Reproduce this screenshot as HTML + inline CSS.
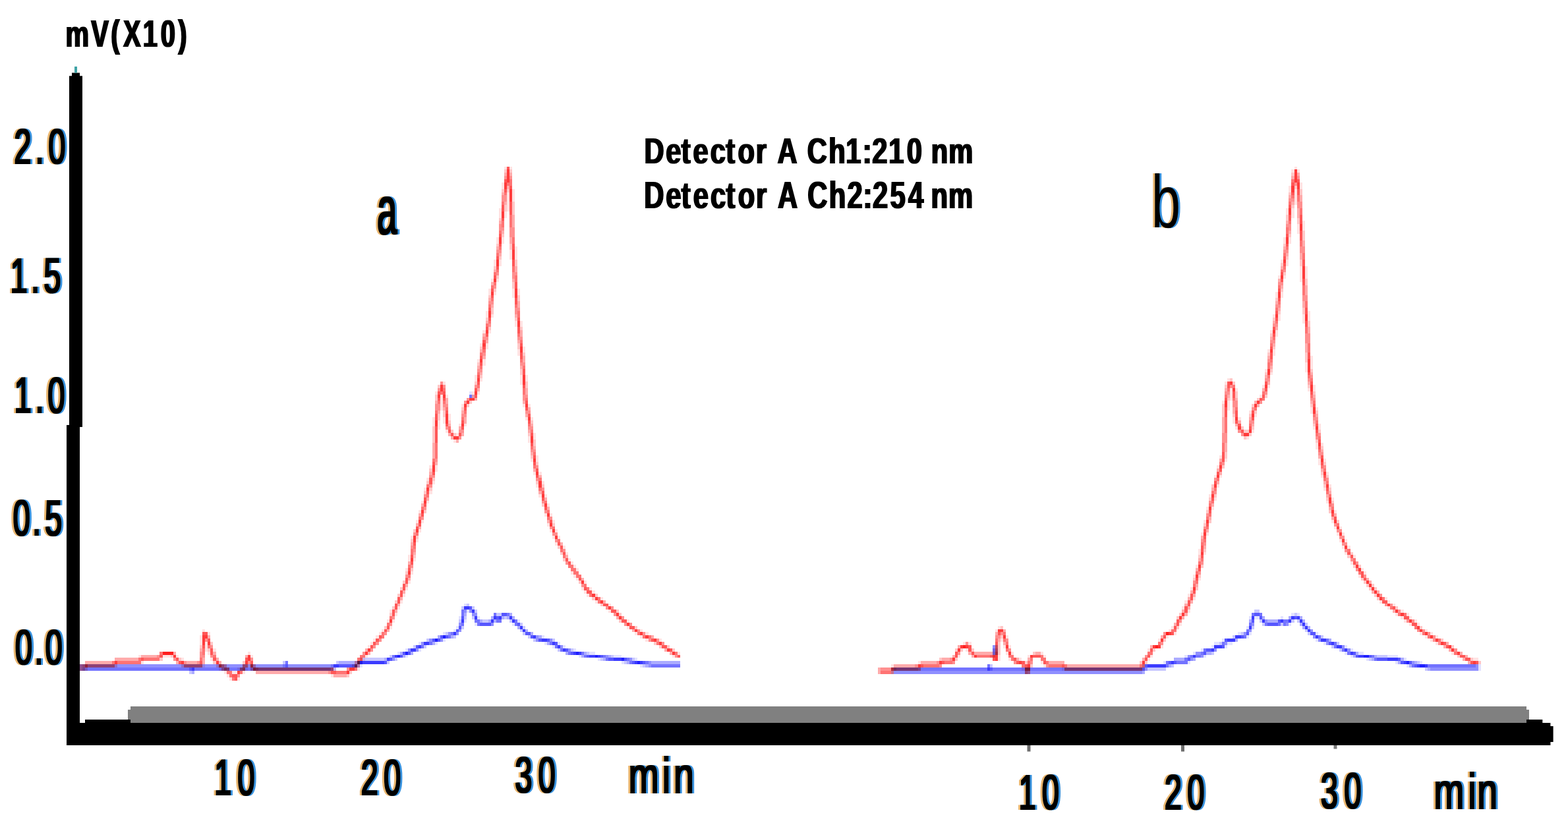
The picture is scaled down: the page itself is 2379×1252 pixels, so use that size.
<!DOCTYPE html>
<html lang="en">
<head>
<meta charset="utf-8">
<title>Chromatogram</title>
<style>
html,body{margin:0;padding:0;background:#fff;}
body{width:2379px;height:1252px;}
svg{display:block;}
text{font-family:"Liberation Sans",sans-serif;font-size:200px;fill:#000;}
.b{font-weight:bold;}
.curve{mix-blend-mode:multiply;}
</style>
</head>
<body>
<svg width="2379" height="1252" viewBox="0 0 2379 1252">
<defs>
<filter id="ct" x="-20%" y="-10%" width="140%" height="120%" color-interpolation-filters="sRGB">
<feMorphology in="SourceGraphic" operator="dilate" radius="1 1" result="core"/>
<feFlood flood-color="#e0962f" flood-opacity="0.7" result="fo"/><feComposite in="fo" in2="core" operator="in"/><feOffset dx="-3.0" result="ol"/>
<feFlood flood-color="#2488dc" flood-opacity="0.9" result="fb"/><feComposite in="fb" in2="core" operator="in"/><feOffset dx="3.0" result="br"/>
<feMerge><feMergeNode in="ol"/><feMergeNode in="br"/><feMergeNode in="core"/></feMerge>
</filter>
<filter id="cta" x="-20%" y="-10%" width="140%" height="120%" color-interpolation-filters="sRGB">
<feFlood flood-color="#e0962f" flood-opacity="0.7" result="fo"/><feComposite in="fo" in2="SourceGraphic" operator="in"/><feOffset dx="-3.0" result="ol"/>
<feFlood flood-color="#2488dc" flood-opacity="0.9" result="fb"/><feComposite in="fb" in2="SourceGraphic" operator="in"/><feOffset dx="3.0" result="br"/>
<feMerge><feMergeNode in="ol"/><feMergeNode in="br"/><feMergeNode in="SourceGraphic"/></feMerge>
</filter>
<filter id="ctb" x="-20%" y="-10%" width="140%" height="120%" color-interpolation-filters="sRGB">
<feMorphology in="SourceGraphic" operator="erode" radius="1 0" result="core"/>
<feFlood flood-color="#e0962f" flood-opacity="0.7" result="fo"/><feComposite in="fo" in2="core" operator="in"/><feOffset dx="-3.0" result="ol"/>
<feFlood flood-color="#2488dc" flood-opacity="0.9" result="fb"/><feComposite in="fb" in2="core" operator="in"/><feOffset dx="3.0" result="br"/>
<feMerge><feMergeNode in="ol"/><feMergeNode in="br"/><feMergeNode in="core"/></feMerge>
</filter>
<filter id="bm" x="-5%" y="-10%" width="110%" height="120%"><feMorphology operator="dilate" radius="1 0"/></filter>
</defs>
<rect x="0" y="0" width="2379" height="1252" fill="#fff"/>
<g style="isolation:isolate" shape-rendering="crispEdges" transform="matrix(4.0495 0 0 4.875 -0.5 -0.97)">
<g class="curve">
<path fill="#0000ff" fill-opacity="0.11" d="M176 122h1v1h-1zM177 123h1v1h-1zM174 188h1v1h-1zM175 190h1v1h-1zM484 191h1v1h-1zM486 191h1v1h-1zM172 192h1v1h-1zM179 192h1v1h-1zM468 192h1v1h-1zM470 192h2v1h-2zM480 192h1v1h-1zM174 193h1v1h-1zM194 193h1v1h-1zM178 194h1v1h-1zM192 194h1v1h-1zM483 194h1v1h-1zM171 195h1v1h-1zM467 195h1v1h-1zM170 196h1v1h-1zM166 197h1v1h-1zM464 197h1v1h-1zM468 197h1v1h-1zM493 197h1v1h-1zM203 198h1v1h-1zM467 198h1v1h-1zM166 199h1v1h-1zM458 199h1v1h-1zM493 199h1v1h-1zM157 200h1v1h-1zM163 200h1v1h-1zM204 200h1v1h-1zM209 200h1v1h-1zM455 200h2v1h-2zM460 200h2v1h-2zM496 200h1v1h-1zM207 201h1v1h-1zM211 201h1v1h-1zM454 201h1v1h-1zM459 201h1v1h-1zM504 201h1v1h-1zM152 202h1v1h-1zM157 202h1v1h-1zM215 202h1v1h-1zM450 202h1v1h-1zM506 202h1v1h-1zM149 203h1v1h-1zM221 203h2v1h-2zM447 203h1v1h-1zM504 203h1v1h-1zM509 203h2v1h-2zM152 204h1v1h-1zM217 204h1v1h-1zM230 204h3v1h-3zM372 204h1v1h-1zM444 204h1v1h-1zM451 204h1v1h-1zM506 204h1v1h-1zM520 204h4v1h-4zM135 205h1v1h-1zM224 205h1v1h-1zM238 205h1v1h-1zM512 205h1v1h-1zM526 205h1v1h-1zM233 206h1v1h-1zM436 206h1v1h-1zM445 206h1v1h-1zM523 206h1v1h-1zM532 206h1v1h-1zM135 207h1v1h-1zM240 207h1v1h-1zM527 207h1v1h-1zM554 207h1v2h-1z"/>
<path fill="#0000ff" fill-opacity="0.22" d="M175 188h1v1h-1zM173 189h1v1h-1zM177 189h1v1h-1zM178 190h1v1h-1zM470 190h2v1h-2zM186 191h2v1h-2zM485 191h1v1h-1zM174 192h1v1h-1zM177 192h1v1h-1zM189 192h1v1h-1zM172 193h1v1h-1zM181 193h2v1h-2zM191 193h1v1h-1zM472 193h1v1h-1zM484 193h1v1h-1zM486 193h1v1h-1zM195 194h1v1h-1zM473 194h1v1h-1zM480 194h1v1h-1zM489 194h1v1h-1zM173 195h1v1h-1zM196 195h1v1h-1zM469 195h1v1h-1zM195 196h1v1h-1zM489 196h1v1h-1zM167 197h1v1h-1zM196 197h1v1h-1zM465 197h1v1h-1zM490 197h1v1h-1zM170 198h1v1h-1zM198 198h1v1h-1zM462 198h1v1h-1zM495 198h1v1h-1zM160 199h1v1h-1zM200 199h1v1h-1zM207 199h1v1h-1zM457 200h1v1h-1zM501 200h1v1h-1zM155 201h1v1h-1zM159 201h1v1h-1zM373 201h1v1h-1zM499 201h1v1h-1zM209 202h1v1h-1zM214 202h1v1h-1zM502 202h1v1h-1zM220 203h1v1h-1zM454 203h1v1h-1zM146 204h1v1h-1zM229 204h1v1h-1zM516 204h4v1h-4zM136 205h8v1h-8zM148 205h1v1h-1zM225 205h1v1h-1zM237 205h1v1h-1zM513 205h1v1h-1zM106 206h1v1h-1zM126 206h1v1h-1zM145 206h1v1h-1zM234 206h1v1h-1zM531 206h1v1h-1zM241 207h1v1h-1zM371 207h1v1h-1zM428 207h1v1h-1zM439 207h1v1h-1zM125 208h1v1h-1zM430 208h7v1h-7zM534 208h1v1h-1zM71 209h1v1h-1zM334 209h1v1h-1z"/>
<path fill="#0000ff" fill-opacity="0.33" d="M174 191h1v1h-1zM191 191h1v1h-1zM184 192h1v1h-1zM188 192h1v1h-1zM190 192h1v1h-1zM192 192h1v1h-1zM473 192h1v1h-1zM483 192h1v1h-1zM487 192h1v1h-1zM180 193h1v1h-1zM183 193h1v1h-1zM185 193h1v1h-1zM468 193h1v1h-1zM475 193h4v1h-4zM488 193h1v1h-1zM487 194h1v1h-1zM194 195h1v1h-1zM488 195h1v1h-1zM490 195h1v1h-1zM197 196h1v1h-1zM199 197h1v1h-1zM164 198h1v1h-1zM169 198h1v1h-1zM202 198h1v1h-1zM463 199h1v1h-1zM498 199h1v1h-1zM162 200h1v1h-1zM205 200h1v1h-1zM373 202h1v2h-1zM150 203h1v1h-1zM154 203h1v1h-1zM212 203h1v1h-1zM219 203h1v1h-1zM452 203h2v1h-2zM508 203h1v1h-1zM151 204h1v1h-1zM218 204h1v1h-1zM228 204h1v1h-1zM507 204h1v1h-1zM515 204h1v1h-1zM144 205h1v1h-1zM226 205h1v1h-1zM440 205h4v1h-4zM447 205h1v1h-1zM514 205h1v1h-1zM525 205h1v1h-1zM127 206h7v1h-7zM235 206h1v1h-1zM244 206h11v1h-11zM524 206h1v1h-1zM530 206h1v1h-1zM134 207h1v1h-1zM242 207h1v1h-1zM438 207h1v1h-1zM528 207h1v1h-1zM334 208h1v1h-1zM535 208h1v1h-1zM72 209h1v1h-1zM428 209h1v1h-1z"/>
<path fill="#0000ff" fill-opacity="0.44" d="M174 190h1v1h-1zM176 190h1v1h-1zM177 191h2v1h-2zM474 193h1v1h-1zM172 194h1v1h-1zM184 194h1v1h-1zM469 194h1v1h-1zM482 194h1v1h-1zM172 196h1v1h-1zM468 196h1v1h-1zM491 196h1v1h-1zM168 197h1v1h-1zM171 197h1v1h-1zM466 197h1v1h-1zM201 198h1v2h-1zM492 198h1v1h-1zM161 199h1v1h-1zM165 199h1v1h-1zM206 199h1v1h-1zM494 199h1v1h-1zM158 200h1v1h-1zM459 200h1v1h-1zM497 200h1v1h-1zM210 201h1v1h-1zM372 201h1v1h-1zM503 201h1v1h-1zM153 202h1v1h-1zM156 202h1v1h-1zM213 202h1v1h-1zM455 202h1v1h-1zM505 202h1v1h-1zM448 203h2v1h-2zM227 204h1v1h-1zM445 204h1v1h-1zM450 204h1v1h-1zM147 205h1v1h-1zM236 205h1v1h-1zM446 205h1v1h-1zM243 206h1v2h-1zM529 206h1v1h-1zM30 207h76v1h-76zM108 207h16v1h-16zM553 207h1v1h-1zM30 208h1v1h-1zM124 208h1v1h-1zM429 208h1v1h-1zM536 208h18v1h-18zM335 209h93v1h-93z"/>
<path fill="#0000ff" fill-opacity="0.55" d="M176 123h1v1h-1zM173 190h1v2h-1zM185 191h1v1h-1zM190 191h1v1h-1zM469 191h1v1h-1zM472 191h1v1h-1zM178 193h2v1h-2zM186 193h2v1h-2zM193 193h1v2h-1zM481 193h2v1h-2zM173 194h1v1h-1zM179 194h1v1h-1zM468 194h1v1h-1zM474 194h1v1h-1zM479 194h1v1h-1zM481 194h1v1h-1zM467 196h1v1h-1zM169 197h1v1h-1zM168 198h1v1h-1zM466 198h1v1h-1zM494 198h1v1h-1zM497 199h1v1h-1zM161 200h1v1h-1zM206 200h1v1h-1zM458 200h1v1h-1zM500 200h1v2h-1zM158 201h1v1h-1zM208 201h1v1h-1zM210 202h1v1h-1zM372 202h1v2h-1zM451 202h1v1h-1zM503 202h1v1h-1zM213 203h1v1h-1zM218 203h1v1h-1zM450 203h1v1h-1zM505 203h1v1h-1zM147 204h1v1h-1zM219 204h1v1h-1zM226 204h1v1h-1zM446 204h1v1h-1zM448 204h2v1h-2zM514 204h1v1h-1zM227 205h1v1h-1zM235 205h1v1h-1zM444 205h1v1h-1zM515 205h1v1h-1zM107 206h1v1h-1zM236 206h1v1h-1zM242 206h1v1h-1zM437 206h1v2h-1zM441 206h4v1h-4zM106 207h1v1h-1zM124 207h1v1h-1zM244 207h11v1h-11zM370 207h1v1h-1zM529 207h1v1h-1zM535 207h18v1h-18zM31 208h40v1h-40zM73 208h51v1h-51zM335 208h35v1h-35zM372 208h56v1h-56z"/>
<path fill="#0000ff" fill-opacity="0.66" d="M176 189h1v1h-1zM188 191h2v1h-2zM470 191h2v1h-2zM173 192h1v1h-1zM186 192h1v1h-1zM472 192h1v1h-1zM485 192h1v1h-1zM469 193h1v1h-1zM479 193h1v1h-1zM180 194h4v1h-4zM194 194h1v1h-1zM475 194h4v1h-4zM172 195h1v1h-1zM171 196h1v1h-1zM197 197h2v1h-2zM467 197h1v1h-1zM491 197h2v1h-2zM165 198h1v1h-1zM167 198h1v1h-1zM199 198h1v1h-1zM465 198h1v1h-1zM162 199h1v1h-1zM164 199h1v1h-1zM202 199h1v1h-1zM205 199h1v1h-1zM459 199h1v1h-1zM208 200h1v1h-1zM498 200h1v1h-1zM156 201h1v1h-1zM458 201h1v1h-1zM212 202h1v1h-1zM452 202h2v1h-2zM151 203h1v1h-1zM153 203h1v1h-1zM214 203h1v1h-1zM451 203h1v1h-1zM507 203h1v1h-1zM150 204h1v1h-1zM220 204h1v1h-1zM225 204h1v1h-1zM508 204h1v1h-1zM513 204h1v1h-1zM146 205h1v1h-1zM228 205h2v1h-2zM234 205h1v1h-1zM445 205h1v1h-1zM516 205h4v1h-4zM524 205h1v1h-1zM134 206h1v1h-1zM144 206h1v1h-1zM237 206h1v1h-1zM241 206h1v1h-1zM438 206h1v1h-1zM440 206h1v1h-1zM525 206h1v1h-1zM528 206h1v1h-1zM107 207h1v1h-1zM127 207h7v1h-7zM429 207h1v1h-1zM530 207h1v1h-1zM71 208h1v1h-1zM371 208h1v1h-1zM428 208h1v1h-1z"/>
<path fill="#0000ff" fill-opacity="0.77" d="M174 189h2v1h-2zM177 190h1v1h-1zM178 192h1v1h-1zM185 192h1v1h-1zM187 192h1v1h-1zM191 192h1v1h-1zM469 192h1v1h-1zM484 192h1v1h-1zM486 192h1v1h-1zM173 193h1v1h-1zM184 193h1v1h-1zM192 193h1v1h-1zM473 193h1v1h-1zM480 193h1v1h-1zM483 193h1v1h-1zM487 193h1v1h-1zM488 194h1v1h-1zM195 195h1v1h-1zM468 195h1v1h-1zM489 195h1v1h-1zM196 196h1v1h-1zM490 196h1v1h-1zM170 197h1v1h-1zM200 198h1v1h-1zM463 198h2v1h-2zM493 198h1v1h-1zM203 199h2v1h-2zM460 199h3v1h-3zM495 199h2v1h-2zM159 200h2v1h-2zM207 200h1v1h-1zM499 200h1v1h-1zM157 201h1v1h-1zM209 201h1v1h-1zM455 201h3v1h-3zM501 201h2v1h-2zM154 202h2v1h-2zM211 202h1v1h-1zM454 202h1v1h-1zM504 202h1v1h-1zM215 203h1v1h-1zM217 203h1v1h-1zM506 203h1v1h-1zM148 204h1v1h-1zM221 204h2v1h-2zM224 204h1v1h-1zM447 204h1v1h-1zM509 204h2v1h-2zM145 205h1v1h-1zM230 205h3v1h-3zM520 205h4v1h-4zM136 206h8v1h-8zM238 206h1v1h-1zM240 206h1v1h-1zM439 206h1v1h-1zM526 206h1v1h-1zM125 207h2v1h-2zM430 207h7v1h-7zM531 207h1v1h-1zM534 207h1v1h-1zM72 208h1v1h-1zM370 208h1v1h-1z"/>
<path fill="#0000ff" fill-opacity="0.88" d="M166 198h1v1h-1zM163 199h1v1h-1zM152 203h1v1h-1zM216 203h1v1h-1zM149 204h1v1h-1zM223 204h1v1h-1zM511 204h2v1h-2zM233 205h1v1h-1zM135 206h1v1h-1zM239 206h1v1h-1zM527 206h1v1h-1zM532 207h2v1h-2z"/>
</g>
<g class="curve">
<path fill="#ff0000" fill-opacity="0.11" d="M189 52h1v1h-1zM191 52h1v1h-1zM485 52h1v1h-1zM484 53h1v1h-1zM486 53h1v1h-1zM188 57h1v2h-1zM487 57h1v2h-1zM483 58h1v2h-1zM192 59h1v4h-1zM485 59h1v5h-1zM190 60h1v6h-1zM187 65h1v3h-1zM482 65h1v2h-1zM484 65h1v3h-1zM189 66h1v2h-1zM488 69h1v3h-1zM486 70h1v3h-1zM186 74h1v2h-1zM188 74h1v2h-1zM481 74h1v2h-1zM483 74h1v2h-1zM193 77h1v4h-1zM191 78h1v3h-1zM185 81h1v2h-1zM187 81h1v2h-1zM480 81h1v1h-1zM482 81h1v2h-1zM487 83h1v5h-1zM489 83h1v4h-1zM479 86h1v1h-1zM481 86h1v1h-1zM184 87h1v1h-1zM186 87h1v1h-1zM183 90h1v2h-1zM192 90h1v3h-1zM194 90h1v2h-1zM185 91h1v1h-1zM478 91h1v2h-1zM480 91h1v2h-1zM182 97h1v2h-1zM490 97h1v3h-1zM184 98h1v1h-1zM477 98h1v1h-1zM479 98h1v2h-1zM488 98h1v3h-1zM193 100h1v2h-1zM195 100h1v2h-1zM181 103h1v1h-1zM183 103h1v1h-1zM476 103h1v1h-1zM478 103h1v2h-1zM180 107h1v1h-1zM182 107h1v2h-1zM196 108h1v2h-1zM194 109h1v2h-1zM475 109h1v1h-1zM477 109h1v2h-1zM491 111h1v4h-1zM179 112h1v1h-1zM181 112h1v2h-1zM489 113h1v3h-1zM474 115h1v1h-1zM476 116h1v1h-1zM178 117h1v2h-1zM195 117h1v3h-1zM197 117h1v2h-1zM180 118h1v1h-1zM460 118h1v1h-1zM166 119h1v1h-1zM459 119h1v1h-1zM473 120h1v1h-1zM475 120h1v1h-1zM492 120h1v2h-1zM461 121h1v4h-1zM463 121h1v1h-1zM490 121h1v1h-1zM163 122h1v1h-1zM177 122h1v1h-1zM179 122h1v1h-1zM165 123h1v5h-1zM167 123h1v1h-1zM472 123h1v1h-1zM458 125h1v1h-1zM460 125h1v3h-1zM173 126h1v1h-1zM196 126h1v1h-1zM198 126h1v1h-1zM491 127h1v2h-1zM493 127h1v1h-1zM468 128h1v1h-1zM168 129h1v2h-1zM470 129h1v1h-1zM162 130h1v3h-1zM166 130h1v2h-1zM197 130h1v1h-1zM199 130h1v1h-1zM462 130h1v2h-1zM464 130h1v1h-1zM164 131h1v3h-1zM172 132h1v1h-1zM174 132h1v1h-1zM494 132h1v2h-1zM463 133h1v1h-1zM492 133h1v1h-1zM167 134h1v1h-1zM469 134h1v1h-1zM171 135h1v1h-1zM200 135h1v2h-1zM198 136h1v2h-1zM467 136h1v1h-1zM170 137h1v1h-1zM493 138h1v2h-1zM495 138h1v1h-1zM201 142h1v2h-1zM457 142h1v1h-1zM199 143h1v1h-1zM459 143h1v1h-1zM494 143h1v2h-1zM496 143h1v1h-1zM161 145h1v1h-1zM163 145h1v2h-1zM456 145h1v1h-1zM200 147h1v1h-1zM202 147h1v1h-1zM497 147h1v1h-1zM455 148h1v1h-1zM457 148h1v1h-1zM495 148h1v1h-1zM160 149h1v1h-1zM162 150h1v1h-1zM203 150h1v1h-1zM201 151h1v1h-1zM456 151h1v1h-1zM498 151h1v1h-1zM159 152h1v1h-1zM496 152h1v1h-1zM161 153h1v1h-1zM202 154h1v1h-1zM204 154h1v1h-1zM453 154h1v1h-1zM455 155h1v1h-1zM499 155h1v1h-1zM158 156h1v1h-1zM160 156h1v1h-1zM497 156h1v1h-1zM205 157h1v1h-1zM452 158h1v1h-1zM454 158h1v1h-1zM157 159h1v1h-1zM500 159h1v1h-1zM204 160h1v1h-1zM206 160h1v1h-1zM156 162h1v1h-1zM158 162h1v1h-1zM207 162h1v1h-1zM451 162h1v1h-1zM499 162h1v1h-1zM205 163h1v1h-1zM500 164h1v1h-1zM502 164h1v1h-1zM157 165h1v1h-1zM206 165h1v1h-1zM208 165h1v1h-1zM450 166h1v1h-1zM452 166h1v1h-1zM501 166h1v1h-1zM503 166h1v1h-1zM154 167h1v1h-1zM207 167h1v1h-1zM209 167h1v1h-1zM156 168h1v1h-1zM502 168h1v1h-1zM504 168h1v1h-1zM208 169h1v1h-1zM211 170h1v1h-1zM503 170h1v1h-1zM505 170h1v1h-1zM449 171h1v2h-1zM212 172h1v1h-1zM451 172h1v1h-1zM504 172h1v1h-1zM153 173h1v2h-1zM507 173h1v1h-1zM155 174h1v1h-1zM213 174h1v1h-1zM214 175h1v1h-1zM506 175h1v1h-1zM215 176h1v1h-1zM448 176h1v1h-1zM152 177h1v1h-1zM216 177h1v1h-1zM510 177h1v1h-1zM154 178h1v1h-1zM214 178h1v1h-1zM511 178h1v1h-1zM215 179h1v1h-1zM447 179h1v1h-1zM509 179h1v1h-1zM216 180h1v1h-1zM449 180h1v1h-1zM153 181h1v1h-1zM219 181h1v1h-1zM152 183h1v1h-1zM218 183h1v1h-1zM221 183h1v1h-1zM446 183h1v1h-1zM219 184h1v1h-1zM222 184h1v1h-1zM151 185h1v1h-1zM220 185h1v1h-1zM445 185h1v1h-1zM225 186h1v1h-1zM447 186h1v1h-1zM519 186h1v1h-1zM150 187h1v1h-1zM223 187h1v1h-1zM444 187h1v1h-1zM517 187h1v1h-1zM520 187h1v1h-1zM228 188h1v1h-1zM522 188h1v1h-1zM149 189h1v1h-1zM443 189h1v1h-1zM520 189h1v1h-1zM146 190h1v1h-1zM228 190h1v1h-1zM445 190h1v1h-1zM525 190h1v1h-1zM148 191h1v1h-1zM523 191h1v1h-1zM527 191h1v1h-1zM525 192h1v1h-1zM528 192h1v1h-1zM145 193h1v1h-1zM147 193h1v1h-1zM235 193h1v1h-1zM526 193h1v1h-1zM530 193h1v1h-1zM442 194h1v1h-1zM528 194h1v1h-1zM531 194h1v1h-1zM146 195h1v1h-1zM235 195h1v1h-1zM374 195h1v1h-1zM439 195h1v1h-1zM76 196h1v1h-1zM143 196h1v1h-1zM240 196h1v1h-1zM373 196h1v1h-1zM438 196h1v1h-1zM534 196h1v1h-1zM78 197h1v1h-1zM142 197h1v1h-1zM238 197h1v1h-1zM242 197h1v1h-1zM440 197h1v1h-1zM532 197h1v1h-1zM536 197h1v1h-1zM75 198h1v3h-1zM141 198h1v1h-1zM240 198h1v1h-1zM377 198h1v1h-1zM437 198h1v1h-1zM534 198h1v1h-1zM538 198h1v1h-1zM140 199h1v1h-1zM242 199h1v1h-1zM247 199h1v1h-1zM375 199h1v1h-1zM434 199h1v1h-1zM536 199h1v1h-1zM77 200h1v3h-1zM139 200h1v1h-1zM361 200h1v1h-1zM363 200h1v1h-1zM538 200h1v1h-1zM138 201h1v1h-1zM376 201h1v1h-1zM378 201h1v1h-1zM435 201h1v1h-1zM80 202h1v1h-1zM362 202h1v1h-1zM372 202h1v1h-1zM430 202h1v1h-1zM78 203h1v1h-1zM93 203h1v1h-1zM254 203h1v1h-1zM377 203h1v1h-1zM379 203h1v1h-1zM390 203h1v1h-1zM544 203h1v1h-1zM52 204h1v1h-1zM61 204h3v1h-3zM66 204h1v1h-1zM94 204h1v1h-1zM137 204h1v1h-1zM252 204h1v1h-1zM359 204h1v1h-1zM374 204h1v2h-1zM385 204h1v1h-1zM391 204h1v1h-1zM431 204h1v1h-1zM68 205h1v1h-1zM79 205h1v1h-1zM136 205h1v1h-1zM378 205h1v1h-1zM382 205h1v1h-1zM430 205h1v1h-1zM552 205h2v1h-2zM53 206h1v1h-1zM135 206h1v1h-1zM344 206h1v1h-1zM390 206h1v1h-1zM76 207h1v1h-1zM93 207h1v1h-1zM334 207h1v1h-1zM391 207h1v1h-1zM82 208h1v1h-1zM89 208h1v1h-1zM92 208h1v1h-1zM125 208h1v1h-1zM134 208h1v1h-1zM383 208h1v1h-1zM398 208h1v1h-1zM428 208h1v1h-1zM84 209h1v1h-1zM87 209h2v1h-2zM91 209h1v1h-1zM85 210h1v1h-1zM124 210h1v1h-1zM86 211h1v1h-1zM89 211h1v1h-1z"/>
<path fill="#ff0000" fill-opacity="0.22" d="M189 53h1v1h-1zM191 53h1v1h-1zM484 54h1v1h-1zM485 58h1v1h-1zM188 59h1v1h-1zM190 59h1v1h-1zM487 59h1v2h-1zM483 60h1v1h-1zM192 63h1v4h-1zM189 64h1v2h-1zM484 64h1v1h-1zM482 67h1v2h-1zM187 68h1v1h-1zM486 68h1v2h-1zM488 72h1v3h-1zM188 73h1v1h-1zM483 73h1v1h-1zM186 76h1v1h-1zM191 76h1v2h-1zM481 76h1v1h-1zM187 80h1v1h-1zM482 80h1v1h-1zM193 81h1v2h-1zM487 81h1v2h-1zM480 82h1v1h-1zM185 83h1v1h-1zM481 85h1v1h-1zM186 86h1v1h-1zM489 87h1v2h-1zM192 88h1v2h-1zM185 90h1v1h-1zM480 90h1v1h-1zM183 92h1v1h-1zM194 92h1v2h-1zM478 93h1v1h-1zM184 96h1v2h-1zM488 96h1v2h-1zM479 97h1v1h-1zM182 99h1v1h-1zM193 99h1v1h-1zM477 99h1v1h-1zM490 100h1v2h-1zM183 102h1v1h-1zM195 102h1v1h-1zM476 104h1v1h-1zM194 107h1v2h-1zM180 108h1v1h-1zM477 108h1v1h-1zM196 110h1v1h-1zM475 110h1v1h-1zM489 110h1v3h-1zM179 113h1v1h-1zM195 115h1v2h-1zM476 115h1v1h-1zM491 115h1v1h-1zM474 116h1v1h-1zM180 117h1v1h-1zM461 118h1v1h-1zM178 119h1v1h-1zM197 119h1v2h-1zM462 119h1v1h-1zM164 120h1v1h-1zM459 120h1v1h-1zM490 120h1v1h-1zM463 122h1v2h-1zM492 122h1v1h-1zM163 123h1v2h-1zM474 123h1v1h-1zM460 124h1v1h-1zM471 124h1v1h-1zM176 125h1v1h-1zM175 126h1v1h-1zM458 126h1v4h-1zM469 126h1v1h-1zM491 126h1v1h-1zM173 127h1v1h-1zM166 128h1v2h-1zM470 128h1v1h-1zM493 128h1v1h-1zM164 129h1v2h-1zM462 129h1v1h-1zM468 129h1v1h-1zM168 131h1v1h-1zM199 131h1v1h-1zM492 132h1v1h-1zM162 133h1v5h-1zM465 133h1v1h-1zM469 133h1v1h-1zM169 134h1v1h-1zM466 134h2v1h-2zM494 134h1v1h-1zM170 135h1v1h-1zM198 135h1v1h-1zM468 135h1v1h-1zM466 136h1v1h-1zM200 137h1v2h-1zM493 137h1v1h-1zM495 139h1v1h-1zM459 141h1v2h-1zM199 142h1v1h-1zM201 144h1v1h-1zM496 144h1v1h-1zM458 145h1v1h-1zM161 146h1v1h-1zM495 147h1v1h-1zM497 148h1v1h-1zM162 149h1v1h-1zM160 150h1v1h-1zM201 150h1v1h-1zM203 151h1v1h-1zM454 151h1v1h-1zM496 151h1v1h-1zM161 152h1v1h-1zM498 152h1v1h-1zM159 153h1v1h-1zM455 154h1v1h-1zM453 155h1v1h-1zM497 155h1v1h-1zM499 156h1v1h-1zM203 157h1v1h-1zM159 159h1v1h-1zM452 159h1v1h-1zM498 159h1v1h-1zM453 162h1v1h-1zM501 162h1v1h-1zM207 163h1v1h-1zM451 163h1v1h-1zM155 165h1v1h-1zM156 167h1v1h-1zM154 168h1v1h-1zM209 170h1v1h-1zM451 171h1v1h-1zM210 172h1v1h-1zM506 172h1v1h-1zM155 173h1v1h-1zM449 173h1v1h-1zM505 173h1v1h-1zM211 174h1v1h-1zM450 176h1v1h-1zM507 176h1v1h-1zM509 176h1v1h-1zM154 177h1v1h-1zM152 178h1v1h-1zM449 179h1v1h-1zM447 180h1v1h-1zM510 180h1v1h-1zM151 181h1v1h-1zM217 181h1v1h-1zM511 181h1v1h-1zM512 182h1v1h-1zM514 182h1v1h-1zM150 183h1v1h-1zM448 183h1v1h-1zM513 183h1v1h-1zM515 183h1v1h-1zM149 185h1v1h-1zM223 185h1v1h-1zM515 185h1v1h-1zM222 186h1v1h-1zM516 186h1v1h-1zM148 187h1v1h-1zM225 188h1v1h-1zM147 189h1v1h-1zM523 189h1v1h-1zM231 190h1v1h-1zM146 191h1v1h-1zM232 191h1v1h-1zM442 191h1v1h-1zM441 192h1v1h-1zM232 193h1v1h-1zM144 195h1v1h-1zM238 195h1v1h-1zM375 195h1v1h-1zM441 195h1v1h-1zM532 195h1v1h-1zM375 198h1v1h-1zM436 199h1v1h-1zM540 199h1v1h-1zM79 200h1v1h-1zM245 200h1v1h-1zM374 200h1v4h-1zM75 201h1v1h-1zM247 201h1v1h-1zM250 201h1v1h-1zM544 201h1v1h-1zM78 202h1v1h-1zM252 202h1v1h-1zM358 202h1v1h-1zM360 202h1v1h-1zM364 202h1v1h-1zM432 202h1v1h-1zM372 203h1v1h-1zM387 203h1v1h-1zM64 204h1v1h-1zM546 204h1v1h-1zM60 205h1v1h-1zM67 205h1v1h-1zM352 205h1v1h-1zM358 205h1v1h-1zM551 205h1v1h-1zM80 206h1v1h-1zM91 206h1v1h-1zM384 206h1v1h-1zM427 206h1v1h-1zM429 206h1v1h-1zM554 206h1v1h-1zM43 207h1v1h-1zM68 207h1v1h-1zM81 207h1v1h-1zM132 207h1v1h-1zM386 207h1v1h-1zM32 208h1v1h-1zM131 209h1v1h-1zM130 210h1v1h-1z"/>
<path fill="#ff0000" fill-opacity="0.33" d="M189 54h1v1h-1zM191 54h1v1h-1zM486 54h1v1h-1zM484 55h1v1h-1zM190 58h1v1h-1zM188 60h1v1h-1zM483 61h1v1h-1zM487 61h1v2h-1zM189 63h1v1h-1zM484 63h1v1h-1zM486 65h1v3h-1zM192 67h1v4h-1zM187 69h1v1h-1zM482 69h1v1h-1zM188 72h1v1h-1zM483 72h1v1h-1zM191 74h1v2h-1zM488 75h1v2h-1zM186 77h1v1h-1zM481 77h1v1h-1zM187 79h1v1h-1zM482 79h1v1h-1zM487 79h1v2h-1zM193 83h1v2h-1zM480 83h1v1h-1zM185 84h1v1h-1zM192 87h1v1h-1zM479 87h1v1h-1zM184 88h1v1h-1zM480 89h1v1h-1zM489 89h1v3h-1zM183 93h1v1h-1zM194 94h1v2h-1zM478 94h1v1h-1zM488 94h1v2h-1zM184 95h1v1h-1zM479 96h1v1h-1zM193 98h1v1h-1zM182 100h1v1h-1zM477 100h1v1h-1zM478 102h1v1h-1zM490 102h1v2h-1zM195 103h1v2h-1zM181 104h1v1h-1zM476 105h1v1h-1zM182 106h1v1h-1zM194 106h1v1h-1zM477 107h1v1h-1zM489 107h1v3h-1zM180 109h1v1h-1zM181 111h1v1h-1zM196 111h1v2h-1zM475 111h1v1h-1zM179 114h1v1h-1zM195 114h1v1h-1zM476 114h1v1h-1zM180 116h1v1h-1zM491 116h1v1h-1zM474 117h1v1h-1zM475 119h1v1h-1zM490 119h1v1h-1zM179 121h1v1h-1zM197 121h1v2h-1zM459 121h1v1h-1zM473 121h1v1h-1zM177 123h1v1h-1zM460 123h1v1h-1zM492 123h1v1h-1zM167 124h1v2h-1zM178 124h1v1h-1zM463 124h1v1h-1zM163 125h1v1h-1zM196 125h1v1h-1zM470 125h1v1h-1zM491 125h1v1h-1zM471 126h1v1h-1zM166 127h1v1h-1zM198 127h1v1h-1zM462 127h1v2h-1zM164 128h1v1h-1zM173 128h1v1h-1zM197 129h1v1h-1zM493 129h1v1h-1zM174 130h1v2h-1zM458 130h1v5h-1zM468 130h1v1h-1zM464 131h1v1h-1zM492 131h1v1h-1zM168 132h1v1h-1zM199 132h1v1h-1zM463 132h1v1h-1zM469 132h1v1h-1zM172 133h1v1h-1zM198 134h1v1h-1zM168 135h1v1h-1zM173 135h1v1h-1zM169 136h1v1h-1zM171 137h1v1h-1zM162 138h1v5h-1zM459 138h1v3h-1zM200 139h1v1h-1zM495 140h1v1h-1zM199 141h1v1h-1zM494 142h1v1h-1zM457 143h1v1h-1zM163 144h1v1h-1zM200 146h1v1h-1zM456 146h1v1h-1zM495 146h1v1h-1zM161 147h1v1h-1zM457 147h1v1h-1zM202 148h1v1h-1zM456 150h1v1h-1zM496 150h1v1h-1zM454 152h1v1h-1zM202 153h1v1h-1zM498 153h1v1h-1zM497 154h1v1h-1zM160 155h1v1h-1zM204 155h1v1h-1zM158 157h1v1h-1zM454 157h1v1h-1zM205 158h1v1h-1zM498 158h1v1h-1zM157 160h1v1h-1zM500 160h1v1h-1zM453 161h1v1h-1zM499 161h1v1h-1zM205 162h1v1h-1zM156 163h1v1h-1zM157 164h1v1h-1zM452 165h1v1h-1zM450 167h1v1h-1zM154 169h1v1h-1zM210 169h1v1h-1zM451 170h1v1h-1zM155 172h1v1h-1zM212 173h1v1h-1zM449 174h1v1h-1zM153 175h1v1h-1zM448 177h1v1h-1zM153 180h1v1h-1zM218 180h1v1h-1zM512 180h1v1h-1zM513 181h1v1h-1zM152 182h1v1h-1zM448 182h1v1h-1zM151 184h1v1h-1zM446 184h1v1h-1zM514 184h1v1h-1zM516 184h1v1h-1zM447 185h1v1h-1zM150 186h1v1h-1zM445 186h1v1h-1zM226 187h1v1h-1zM446 187h1v1h-1zM149 188h1v1h-1zM444 188h1v1h-1zM445 189h1v1h-1zM148 190h1v1h-1zM443 190h1v1h-1zM522 190h1v1h-1zM444 191h1v1h-1zM231 192h1v1h-1zM443 192h1v1h-1zM440 194h1v1h-1zM145 196h1v1h-1zM237 196h1v1h-1zM376 196h1v1h-1zM373 197h1v1h-1zM78 198h1v1h-1zM244 198h1v1h-1zM435 198h1v1h-1zM374 199h1v1h-1zM376 200h1v1h-1zM542 200h1v1h-1zM359 201h1v1h-1zM431 201h1v1h-1zM541 201h1v1h-1zM75 202h1v1h-1zM137 202h1v1h-1zM249 202h1v1h-1zM543 202h1v1h-1zM65 203h1v1h-1zM80 203h1v1h-1zM138 203h1v1h-1zM251 203h1v1h-1zM363 203h1v1h-1zM365 203h7v1h-7zM388 203h2v1h-2zM547 203h1v1h-1zM53 204h6v1h-6zM92 204h1v1h-1zM357 204h1v1h-1zM364 204h1v1h-1zM549 204h1v1h-1zM43 205h9v1h-9zM76 205h1v2h-1zM81 205h1v1h-1zM353 205h3v1h-3zM381 205h1v1h-1zM385 205h1v1h-1zM428 205h1v1h-1zM548 205h1v1h-1zM32 206h10v1h-10zM66 206h1v1h-1zM70 206h4v1h-4zM82 206h1v1h-1zM133 206h1v1h-1zM345 206h6v1h-6zM393 206h6v1h-6zM550 206h1v1h-1zM84 207h1v1h-1zM95 207h1v1h-1zM134 207h1v1h-1zM335 207h8v1h-8zM400 207h27v1h-27zM94 208h1v1h-1zM329 208h1v2h-1zM96 209h27v1h-27zM125 210h5v1h-5z"/>
<path fill="#ff0000" fill-opacity="0.44" d="M189 55h1v1h-1zM191 55h1v1h-1zM486 55h1v1h-1zM485 57h1v1h-1zM188 61h2v1h-2zM188 62h2v1h-2zM483 62h2v1h-2zM486 63h2v1h-2zM486 64h2v1h-2zM187 70h1v1h-1zM482 70h2v1h-2zM187 71h2v1h-2zM191 71h2v1h-2zM483 71h1v1h-1zM191 72h2v1h-2zM191 73h2v1h-2zM487 77h2v1h-2zM186 78h2v1h-2zM481 78h2v1h-2zM487 78h2v1h-2zM481 84h1v1h-1zM186 85h1v1h-1zM192 85h2v1h-2zM192 86h1v1h-1zM479 88h2v1h-2zM185 89h1v1h-1zM488 92h2v1h-2zM488 93h2v1h-2zM183 94h2v1h-2zM478 95h2v1h-2zM193 96h2v1h-2zM193 97h1v1h-1zM183 101h1v1h-1zM477 101h2v1h-2zM489 104h2v1h-2zM181 105h2v1h-2zM194 105h2v1h-2zM489 105h2v1h-2zM476 106h2v1h-2zM489 106h2v1h-2zM181 110h1v1h-1zM475 112h1v1h-1zM195 113h2v1h-2zM476 113h1v1h-1zM179 115h2v1h-2zM491 117h1v1h-1zM474 118h2v1h-2zM490 118h1v1h-1zM165 119h1v1h-1zM166 120h1v1h-1zM178 120h1v1h-1zM461 120h1v1h-1zM164 121h1v1h-1zM459 122h2v1h-2zM474 122h1v1h-1zM196 123h2v1h-2zM175 124h1v1h-1zM196 124h1v1h-1zM491 124h2v1h-2zM174 125h1v1h-1zM462 125h2v1h-2zM472 125h1v1h-1zM163 126h2v1h-2zM166 126h2v1h-2zM462 126h2v1h-2zM163 127h2v1h-2zM469 127h1v1h-1zM197 128h2v1h-2zM173 129h2v1h-2zM492 130h2v1h-2zM468 131h2v1h-2zM167 133h1v1h-1zM198 133h2v1h-2zM172 134h2v1h-2zM464 134h1v1h-1zM458 135h2v1h-2zM465 135h1v1h-1zM494 135h1v1h-1zM172 136h1v1h-1zM458 136h2v1h-2zM493 136h1v1h-1zM458 137h2v1h-2zM199 140h2v1h-2zM494 141h2v1h-2zM163 143h1v1h-1zM458 144h1v1h-1zM201 145h1v1h-1zM496 145h1v1h-1zM161 148h2v1h-2zM201 149h1v1h-1zM455 149h1v1h-1zM497 149h1v1h-1zM161 151h1v1h-1zM203 152h1v1h-1zM455 153h1v1h-1zM159 154h1v1h-1zM203 156h1v1h-1zM453 156h1v1h-1zM499 157h1v1h-1zM159 158h1v1h-1zM204 159h1v1h-1zM452 160h1v1h-1zM158 161h1v1h-1zM206 161h1v1h-1zM500 163h1v1h-1zM206 164h1v1h-1zM451 164h1v1h-1zM501 165h2v1h-2zM155 166h1v1h-1zM207 166h2v1h-2zM502 167h2v1h-2zM208 168h1v1h-1zM450 168h1v1h-1zM451 169h1v1h-1zM503 169h2v1h-2zM154 170h1v1h-1zM155 171h1v1h-1zM211 171h1v1h-1zM504 171h1v1h-1zM506 174h1v1h-1zM212 175h1v1h-1zM450 175h1v1h-1zM508 175h1v1h-1zM154 176h1v1h-1zM508 177h1v1h-1zM449 178h1v1h-1zM152 179h1v1h-1zM511 179h1v1h-1zM447 181h1v1h-1zM218 182h1v1h-1zM517 185h1v1h-1zM519 188h1v1h-1zM521 188h1v1h-1zM227 189h1v1h-1zM229 189h1v1h-1zM524 190h1v1h-1zM230 191h1v1h-1zM147 192h1v1h-1zM233 192h1v1h-1zM442 193h1v1h-1zM527 193h1v1h-1zM529 193h1v1h-1zM146 194h1v1h-1zM234 194h1v1h-1zM236 194h1v1h-1zM239 196h1v1h-1zM531 196h1v1h-1zM533 196h1v1h-1zM144 197h1v1h-1zM241 197h1v1h-1zM375 197h1v1h-1zM436 197h1v1h-1zM535 197h1v1h-1zM373 198h2v1h-2zM537 198h1v2h-1zM77 199h1v1h-1zM142 199h1v1h-1zM243 199h1v1h-1zM246 199h1v1h-1zM377 199h1v1h-1zM141 200h1v1h-1zM248 200h1v1h-1zM362 200h1v1h-1zM435 200h1v1h-1zM539 200h1v1h-1zM79 201h1v1h-1zM140 201h1v1h-1zM139 202h1v1h-1zM378 202h1v1h-1zM545 202h1v1h-1zM75 203h1v1h-1zM136 203h1v1h-1zM359 203h1v1h-1zM59 204h1v1h-1zM75 204h2v1h-2zM79 204h1v1h-1zM253 204h1v1h-1zM429 204h1v1h-1zM65 205h1v1h-1zM94 205h1v1h-1zM356 205h1v1h-1zM69 206h1v1h-1zM74 206h1v1h-1zM93 206h1v1h-1zM351 206h1v1h-1zM357 206h1v1h-1zM380 206h1v1h-1zM386 206h1v1h-1zM30 207h1v1h-1zM343 207h1v1h-1zM352 207h1v1h-1zM392 207h1v1h-1zM30 208h2v1h-2zM83 208h1v1h-1zM130 208h1v1h-1zM330 208h4v1h-4zM344 208h1v1h-1zM123 209h1v1h-1zM334 209h1v1h-1zM385 209h1v1h-1zM89 210h1v1h-1z"/>
<path fill="#ff0000" fill-opacity="0.55" d="M191 56h1v1h-1zM484 56h1v1h-1zM190 57h2v1h-2zM189 60h1v1h-1zM484 61h1v1h-1zM486 61h1v2h-1zM188 63h1v1h-1zM483 63h1v1h-1zM487 65h1v2h-1zM191 67h1v4h-1zM188 69h1v2h-1zM483 69h1v1h-1zM482 71h1v2h-1zM187 72h1v1h-1zM192 74h1v2h-1zM487 75h1v2h-1zM187 77h1v1h-1zM482 77h1v1h-1zM186 79h1v1h-1zM481 79h1v1h-1zM488 79h1v2h-1zM192 83h1v2h-1zM481 83h1v1h-1zM186 84h1v1h-1zM480 84h1v1h-1zM185 85h1v1h-1zM193 86h1v2h-1zM185 88h1v1h-1zM184 89h1v1h-1zM479 89h1v1h-1zM488 89h1v3h-1zM184 93h1v1h-1zM479 94h1v1h-1zM489 94h1v2h-1zM183 95h1v1h-1zM193 95h1v1h-1zM478 96h1v1h-1zM194 97h1v2h-1zM183 100h1v1h-1zM478 100h1v1h-1zM182 101h1v1h-1zM489 102h1v2h-1zM194 104h1v1h-1zM477 105h1v1h-1zM195 106h1v1h-1zM476 107h1v1h-1zM490 107h1v3h-1zM181 109h1v1h-1zM180 110h1v1h-1zM195 112h1v1h-1zM476 112h1v1h-1zM475 113h1v2h-1zM180 114h1v1h-1zM196 114h1v1h-1zM179 116h1v1h-1zM475 117h1v1h-1zM490 117h1v1h-1zM491 118h1v1h-1zM179 120h1v1h-1zM462 120h1v1h-1zM166 121h1v1h-1zM196 121h1v2h-1zM460 121h1v1h-1zM165 122h1v1h-1zM473 122h1v1h-1zM459 123h1v1h-1zM491 123h1v1h-1zM197 124h1v1h-1zM462 124h1v1h-1zM473 124h1v1h-1zM164 125h1v1h-1zM166 125h1v1h-1zM492 125h1v1h-1zM167 127h1v1h-1zM463 127h1v1h-1zM470 127h1v1h-1zM163 128h1v1h-1zM174 128h1v1h-1zM492 129h1v1h-1zM173 130h1v1h-1zM459 130h1v5h-1zM493 131h1v1h-1zM198 132h1v1h-1zM468 132h1v1h-1zM168 133h1v1h-1zM199 134h1v1h-1zM493 135h1v1h-1zM494 136h1v1h-1zM163 138h1v5h-1zM458 138h1v3h-1zM199 139h1v1h-1zM494 140h1v1h-1zM200 141h1v1h-1zM162 143h1v1h-1zM457 144h1v1h-1zM200 145h1v1h-1zM495 145h1v1h-1zM496 146h1v1h-1zM202 149h1v1h-1zM456 149h1v1h-1zM496 149h1v1h-1zM497 150h1v1h-1zM160 151h1v1h-1zM202 152h1v1h-1zM455 152h1v1h-1zM454 153h1v1h-1zM497 153h1v1h-1zM160 154h1v1h-1zM498 154h1v1h-1zM204 156h1v1h-1zM454 156h1v1h-1zM453 157h1v1h-1zM498 157h1v1h-1zM158 158h1v1h-1zM499 158h1v1h-1zM205 159h1v1h-1zM453 160h1v1h-1zM157 161h1v1h-1zM205 161h1v1h-1zM452 161h1v1h-1zM501 163h1v1h-1zM207 164h1v1h-1zM452 164h1v1h-1zM156 166h1v1h-1zM209 168h1v1h-1zM451 168h1v1h-1zM450 169h1v1h-1zM155 170h1v1h-1zM154 171h1v2h-1zM210 171h1v1h-1zM505 171h1v1h-1zM211 173h1v1h-1zM450 174h1v1h-1zM507 174h1v1h-1zM449 175h1v1h-1zM153 176h1v1h-1zM213 176h2v1h-2zM214 177h2v1h-2zM215 178h2v1h-2zM448 178h1v1h-1zM509 178h1v1h-1zM153 179h1v1h-1zM216 179h2v1h-2zM448 181h1v1h-1zM219 182h1v1h-1zM447 182h1v1h-1zM220 183h1v1h-1zM221 185h1v1h-1zM224 186h1v2h-1zM518 186h1v1h-1zM521 189h1v1h-1zM524 191h1v1h-1zM526 191h1v1h-1zM146 192h1v1h-1zM145 194h1v1h-1zM530 195h1v1h-1zM439 196h2v1h-2zM143 197h1v2h-1zM239 197h1v1h-1zM376 197h1v1h-1zM533 197h1v1h-1zM241 198h1v1h-1zM243 198h1v1h-1zM535 198h1v1h-1zM373 199h1v1h-1zM376 199h1v1h-1zM539 199h1v1h-1zM246 200h1v1h-1zM377 200h1v1h-1zM434 200h1v1h-1zM78 201h1v1h-1zM76 202h1v2h-1zM377 202h1v1h-1zM60 203h1v1h-1zM253 203h1v1h-1zM430 203h2v1h-2zM545 203h1v1h-1zM80 204h1v1h-1zM135 204h2v1h-2zM366 204h5v1h-5zM378 204h2v1h-2zM390 204h1v1h-1zM52 205h1v1h-1zM54 205h6v1h-6zM75 205h1v1h-1zM134 205h1v1h-1zM379 205h1v1h-1zM386 205h1v1h-1zM390 205h2v1h-2zM42 206h1v1h-1zM44 206h9v1h-9zM354 206h3v1h-3zM385 206h1v1h-1zM392 206h1v1h-1zM31 207h1v1h-1zM33 207h10v1h-10zM69 207h7v1h-7zM83 207h1v1h-1zM91 207h2v1h-2zM346 207h6v1h-6zM383 207h1v1h-1zM393 207h5v1h-5zM399 207h1v1h-1zM427 207h2v1h-2zM85 208h1v1h-1zM90 208h1v2h-1zM97 208h28v1h-28zM133 208h1v1h-1zM336 208h8v1h-8zM399 208h29v1h-29zM85 209h2v1h-2zM126 209h4v1h-4zM330 209h4v1h-4zM384 209h1v1h-1zM86 210h1v1h-1zM87 211h1v1h-1z"/>
<path fill="#ff0000" fill-opacity="0.66" d="M190 52h1v1h-1zM189 56h1v1h-1zM486 56h1v1h-1zM484 57h1v1h-1zM191 58h1v1h-1zM189 59h1v1h-1zM486 59h1v2h-1zM484 60h1v1h-1zM191 63h1v4h-1zM188 64h1v2h-1zM483 64h1v1h-1zM483 67h1v2h-1zM487 67h1v3h-1zM188 68h1v1h-1zM487 72h1v3h-1zM187 73h1v1h-1zM482 73h1v1h-1zM187 76h1v1h-1zM192 76h1v2h-1zM482 76h1v1h-1zM186 80h1v1h-1zM481 80h1v1h-1zM192 81h1v2h-1zM488 81h1v2h-1zM481 82h1v1h-1zM186 83h1v1h-1zM480 85h1v1h-1zM185 86h1v1h-1zM480 87h1v1h-1zM488 87h1v2h-1zM193 88h1v2h-1zM184 90h1v1h-1zM479 90h1v1h-1zM184 92h1v1h-1zM193 93h1v2h-1zM479 93h1v1h-1zM183 96h1v1h-1zM489 96h1v2h-1zM478 97h1v1h-1zM183 99h1v1h-1zM194 99h1v1h-1zM478 99h1v1h-1zM489 100h1v2h-1zM182 102h1v1h-1zM194 102h1v2h-1zM477 102h1v1h-1zM182 104h1v1h-1zM477 104h1v1h-1zM181 106h1v1h-1zM195 107h1v1h-1zM181 108h1v1h-1zM476 108h1v1h-1zM195 110h1v2h-1zM476 110h1v2h-1zM490 110h1v2h-1zM180 111h1v1h-1zM180 113h1v1h-1zM196 115h1v2h-1zM490 116h1v1h-1zM179 117h1v1h-1zM179 119h1v1h-1zM460 119h1v2h-1zM474 119h1v1h-1zM491 119h1v1h-1zM196 120h1v1h-1zM178 121h1v1h-1zM474 121h1v1h-1zM164 122h1v1h-1zM166 122h1v1h-1zM462 122h1v2h-1zM491 122h1v1h-1zM178 123h1v1h-1zM473 123h1v1h-1zM164 124h1v1h-1zM166 124h1v1h-1zM459 124h1v1h-1zM472 124h1v1h-1zM197 125h1v1h-1zM492 126h1v1h-1zM174 127h1v1h-1zM197 127h1v1h-1zM459 127h1v3h-1zM167 128h1v1h-1zM463 128h1v2h-1zM469 128h1v1h-1zM163 129h1v2h-1zM198 129h1v1h-1zM469 130h1v1h-1zM173 131h1v1h-1zM198 131h1v1h-1zM463 131h1v1h-1zM167 132h1v1h-1zM464 132h1v1h-1zM493 132h1v1h-1zM163 133h1v5h-1zM173 133h1v1h-1zM468 133h1v1h-1zM168 134h1v1h-1zM465 134h1v1h-1zM493 134h1v1h-1zM169 135h1v1h-1zM172 135h1v1h-1zM199 135h1v1h-1zM494 137h1v1h-1zM199 138h1v1h-1zM494 139h1v1h-1zM458 141h1v3h-1zM200 142h1v1h-1zM495 142h1v1h-1zM162 144h1v1h-1zM200 144h1v1h-1zM495 144h1v1h-1zM201 146h1v1h-1zM457 146h1v1h-1zM162 147h1v1h-1zM456 147h1v1h-1zM201 148h1v1h-1zM496 148h1v1h-1zM161 149h1v2h-1zM455 150h1v1h-1zM497 152h1v1h-1zM160 153h1v1h-1zM203 153h1v1h-1zM159 155h1v1h-1zM203 155h1v1h-1zM454 155h1v1h-1zM159 157h1v1h-1zM204 158h1v1h-1zM453 159h1v1h-1zM158 160h1v1h-1zM499 160h1v1h-1zM500 161h1v1h-1zM206 162h1v1h-1zM157 163h1v1h-1zM452 163h1v1h-1zM156 164h1v1h-1zM451 165h1v1h-1zM451 167h1v1h-1zM155 169h1v1h-1zM209 169h1v1h-1zM210 170h1v1h-1zM450 170h1v2h-1zM211 172h1v1h-1zM505 172h1v1h-1zM154 173h1v1h-1zM450 173h1v1h-1zM506 173h1v1h-1zM212 174h1v1h-1zM154 175h1v1h-1zM213 175h1v1h-1zM507 175h1v1h-1zM153 177h1v1h-1zM449 177h1v1h-1zM510 178h1v2h-1zM152 180h1v2h-1zM217 180h1v1h-1zM448 180h1v1h-1zM511 180h1v1h-1zM151 182h1v2h-1zM219 183h1v1h-1zM150 184h1v2h-1zM220 184h2v1h-2zM447 184h1v1h-1zM446 185h1v2h-1zM149 186h1v2h-1zM445 187h1v2h-1zM518 187h2v1h-2zM148 188h1v2h-1zM226 188h2v1h-2zM444 189h1v2h-1zM522 189h1v1h-1zM147 190h1v2h-1zM229 190h2v1h-2zM526 192h2v1h-2zM233 193h2v1h-2zM441 193h1v2h-1zM529 194h2v1h-2zM145 195h1v1h-1zM236 195h2v1h-2zM440 195h1v1h-1zM144 196h1v1h-1zM76 197h2v1h-2zM374 197h1v1h-1zM439 197h1v1h-1zM142 198h1v1h-1zM436 198h1v1h-1zM78 199h1v1h-1zM141 199h1v1h-1zM244 199h1v1h-1zM140 200h1v1h-1zM373 200h1v3h-1zM541 200h1v1h-1zM76 201h1v1h-1zM139 201h1v1h-1zM248 201h2v1h-2zM363 201h1v2h-1zM542 201h1v1h-1zM79 202h1v2h-1zM251 202h1v1h-1zM431 202h1v1h-1zM358 203h1v2h-1zM364 203h1v1h-1zM60 204h1v1h-1zM254 204h1v1h-1zM371 204h1v1h-1zM387 204h3v1h-3zM430 204h1v1h-1zM547 204h2v1h-2zM53 205h1v1h-1zM66 205h1v1h-1zM80 205h1v1h-1zM92 205h1v1h-1zM135 205h1v1h-1zM372 205h1v1h-1zM380 205h1v1h-1zM429 205h1v1h-1zM549 205h2v1h-2zM67 206h1v1h-1zM75 206h1v1h-1zM94 206h1v1h-1zM353 206h1v1h-1zM381 206h1v1h-1zM383 206h1v1h-1zM391 206h1v1h-1zM551 206h1v1h-1zM553 206h1v1h-1zM133 207h1v1h-1zM345 207h1v1h-1zM384 207h1v1h-1zM398 207h1v1h-1zM84 208h1v1h-1zM91 208h1v1h-1zM96 208h1v1h-1zM335 208h1v1h-1zM124 209h2v1h-2zM87 210h2v1h-2zM88 211h1v1h-1z"/>
<path fill="#ff0000" fill-opacity="0.77" d="M190 53h1v4h-1zM485 53h1v4h-1zM189 57h1v2h-1zM486 57h1v2h-1zM484 58h1v2h-1zM191 59h1v4h-1zM483 65h1v2h-1zM188 66h1v2h-1zM487 70h1v2h-1zM187 74h1v2h-1zM482 74h1v2h-1zM192 78h1v3h-1zM186 81h1v2h-1zM481 81h1v1h-1zM488 83h1v4h-1zM480 86h1v1h-1zM185 87h1v1h-1zM193 90h1v3h-1zM184 91h1v1h-1zM479 91h1v2h-1zM183 97h1v2h-1zM478 98h1v1h-1zM489 98h1v2h-1zM194 100h1v2h-1zM182 103h1v1h-1zM477 103h1v1h-1zM181 107h1v1h-1zM195 108h1v2h-1zM476 109h1v1h-1zM180 112h1v1h-1zM490 112h1v4h-1zM475 115h1v2h-1zM196 117h1v3h-1zM179 118h1v1h-1zM461 119h1v1h-1zM165 120h1v2h-1zM474 120h1v1h-1zM491 120h1v2h-1zM462 121h1v1h-1zM178 122h1v1h-1zM164 123h1v1h-1zM166 123h1v1h-1zM176 124h2v1h-2zM175 125h1v1h-1zM459 125h1v2h-1zM471 125h1v1h-1zM174 126h1v1h-1zM197 126h1v1h-1zM470 126h1v1h-1zM492 127h1v2h-1zM167 129h1v3h-1zM469 129h1v1h-1zM198 130h1v1h-1zM463 130h1v1h-1zM163 131h1v2h-1zM173 132h1v1h-1zM464 133h1v1h-1zM493 133h1v1h-1zM468 134h1v1h-1zM466 135h2v1h-2zM170 136h2v1h-2zM199 136h1v2h-1zM494 138h1v1h-1zM200 143h1v1h-1zM495 143h1v1h-1zM162 145h1v2h-1zM457 145h1v1h-1zM201 147h1v1h-1zM496 147h1v1h-1zM456 148h1v1h-1zM202 150h1v2h-1zM455 151h1v1h-1zM497 151h1v1h-1zM160 152h1v1h-1zM203 154h1v1h-1zM454 154h1v1h-1zM498 155h1v2h-1zM159 156h1v1h-1zM204 157h1v1h-1zM453 158h1v1h-1zM158 159h1v1h-1zM499 159h1v1h-1zM205 160h1v1h-1zM157 162h1v1h-1zM452 162h1v1h-1zM500 162h1v1h-1zM206 163h1v1h-1zM501 164h1v1h-1zM156 165h1v1h-1zM207 165h1v1h-1zM451 166h1v1h-1zM502 166h1v1h-1zM155 167h1v2h-1zM208 167h1v1h-1zM503 168h1v1h-1zM504 170h1v1h-1zM450 172h1v1h-1zM154 174h1v1h-1zM449 176h1v1h-1zM508 176h1v1h-1zM509 177h1v1h-1zM153 178h1v1h-1zM448 179h1v1h-1zM218 181h1v1h-1zM512 181h1v1h-1zM513 182h1v1h-1zM447 183h1v1h-1zM514 183h1v1h-1zM515 184h1v1h-1zM222 185h1v1h-1zM516 185h1v1h-1zM223 186h1v1h-1zM517 186h1v1h-1zM225 187h1v1h-1zM520 188h1v1h-1zM228 189h1v1h-1zM523 190h1v1h-1zM231 191h1v1h-1zM443 191h1v1h-1zM525 191h1v1h-1zM232 192h1v1h-1zM442 192h1v1h-1zM146 193h1v1h-1zM528 193h1v1h-1zM235 194h1v1h-1zM531 195h1v1h-1zM238 196h1v1h-1zM374 196h2v1h-2zM532 196h1v1h-1zM240 197h1v1h-1zM438 197h1v1h-1zM534 197h1v1h-1zM76 198h2v1h-2zM242 198h1v1h-1zM376 198h1v1h-1zM536 198h1v1h-1zM76 199h1v2h-1zM245 199h1v1h-1zM435 199h1v1h-1zM538 199h1v1h-1zM78 200h1v1h-1zM247 200h1v1h-1zM540 200h1v1h-1zM360 201h1v1h-1zM362 201h1v1h-1zM377 201h1v1h-1zM432 201h1v1h-1zM434 201h1v1h-1zM543 201h1v1h-1zM138 202h1v1h-1zM250 202h1v1h-1zM359 202h1v1h-1zM544 202h1v1h-1zM137 203h1v1h-1zM252 203h1v1h-1zM373 203h1v1h-1zM378 203h1v1h-1zM546 203h1v1h-1zM65 204h1v1h-1zM93 204h1v2h-1zM365 204h1v1h-1zM372 204h2v1h-2zM386 204h1v1h-1zM357 205h1v1h-1zM373 205h1v1h-1zM43 206h1v1h-1zM68 206h1v1h-1zM81 206h1v1h-1zM92 206h1v1h-1zM134 206h1v1h-1zM352 206h1v1h-1zM382 206h1v1h-1zM428 206h1v1h-1zM552 206h1v1h-1zM32 207h1v1h-1zM82 207h1v1h-1zM94 207h1v1h-1zM344 207h1v1h-1zM385 207h1v1h-1zM95 208h1v1h-1zM131 208h2v1h-2zM334 208h1v1h-1zM384 208h2v1h-2zM89 209h1v1h-1zM130 209h1v1h-1z"/>
<path fill="#ff0000" fill-opacity="0.88" d="M437 197h1v1h-1zM361 201h1v1h-1zM433 201h1v1h-1zM61 203h4v1h-4z"/>
</g>
</g>
<path d="M198 1072H2316V1077H2320V1092H2316V1097H198V1092H194V1077H198Z" fill="#808080"/>
<path d="M109 110.5H121V115.3H125V648H121V1097H129V1092H198V1097H2316V1092H2340.3V1097H2352.4V1102H2356.6V1126H2352.4V1131H101V645H105V115.3H109Z" fill="#000"/>
<rect x="113" y="101" width="4" height="9.5" fill="#3fa3a6"/>
<rect x="1558.5" y="1131" width="5" height="9.5" fill="#6e6e6e"/>
<rect x="1792" y="1131" width="5" height="9.5" fill="#6e6e6e"/>
<rect x="2023.5" y="1131" width="5" height="5.5" fill="#7a7a7a"/>
<g filter="url(#ct)"><text transform="matrix(0.2360 0 0 0.3732 0 247.75)" x="90.0 227.2 310.9" y="0">2.0</text></g>
<g filter="url(#ct)"><text transform="matrix(0.2360 0 0 0.3732 0 443.75)" x="65.2 199.2 280.3" y="0">1.5</text></g>
<g filter="url(#ct)"><text transform="matrix(0.2360 0 0 0.3768 0 626.25)" x="90.9 226.2 306.5" y="0">1.0</text></g>
<g filter="url(#ct)"><text transform="matrix(0.2360 0 0 0.3768 0 812.25)" x="83.0 207.5 288.6" y="0">0.5</text></g>
<g filter="url(#ct)"><text transform="matrix(0.2360 0 0 0.3732 0 1008.25)" x="96.4 220.9 289.8" y="0">0.0</text></g>
<g filter="url(#ct)"><text transform="matrix(0.2360 0 0 0.3838 0 1206.23)" x="1376.9 1526.1" y="0">10</text></g>
<g filter="url(#ct)"><text transform="matrix(0.2360 0 0 0.3838 0 1206.23)" x="2319.7 2466.0" y="0">20</text></g>
<g filter="url(#ct)"><text transform="matrix(0.2360 0 0 0.3838 0 1202.23)" x="3310.0 3460.1" y="0">30</text></g>
<g filter="url(#ct)"><text transform="matrix(0.2770 0 0 0.3759 0 1203.00)" x="3441.9 3627.1 3689.8" y="0">min</text></g>
<g filter="url(#ct)"><text transform="matrix(0.2360 0 0 0.3662 0 1227.77)" x="6548.5 6697.7" y="0">10</text></g>
<g filter="url(#ct)"><text transform="matrix(0.2360 0 0 0.3662 0 1227.77)" x="7486.0 7632.3" y="0">20</text></g>
<g filter="url(#ct)"><text transform="matrix(0.2360 0 0 0.3838 0 1225.73)" x="8490.3 8640.4" y="0">30</text></g>
<g filter="url(#ct)"><text transform="matrix(0.2770 0 0 0.3759 0 1226.50)" x="7852.9 8040.3 8091.4" y="0">min</text></g>
<g filter="url(#ct)"><text transform="matrix(0.2726 0 0 0.5227 0 355.45)" x="2098.7" y="0">a</text></g>
<g filter="url(#cta)"><text transform="matrix(0.3952 0 0 0.5612 0 345.38)" x="4420.4" y="0">b</text></g>
<g filter="url(#bm)"><text class="b" transform="matrix(0.2000 0 0 0.2833 0 71.00)" x="496.9 690.7 841.1 935.2 1083.6 1218.7 1350.7" y="0">mV(X10)</text></g>
<g filter="url(#bm)"><text class="b" transform="matrix(0.2084 0 0 0.2819 0 247.80)" x="4690.2 4848.1 4960.6 5046.2 5171.5 5284.8 5371.9 5502.3 5562.3 5660.0 5720.0 5877.4 6032.7 6158.2 6280.4 6350.1 6469.1 6602.1 6662.1 6779.2 6906.4" y="0">Detector A Ch1:210 nm</text></g>
<g filter="url(#bm)"><text class="b" transform="matrix(0.2091 0 0 0.2833 0 316.30)" x="4673.9 4831.8 4944.2 5029.7 5155.0 5268.3 5355.2 5485.5 5545.5 5642.9 5702.9 5860.0 6015.2 6147.7 6262.2 6331.8 6458.3 6590.6 6650.6 6754.9 6882.0" y="0">Detector A Ch2:254 nm</text></g>
</svg>
</body>
</html>
